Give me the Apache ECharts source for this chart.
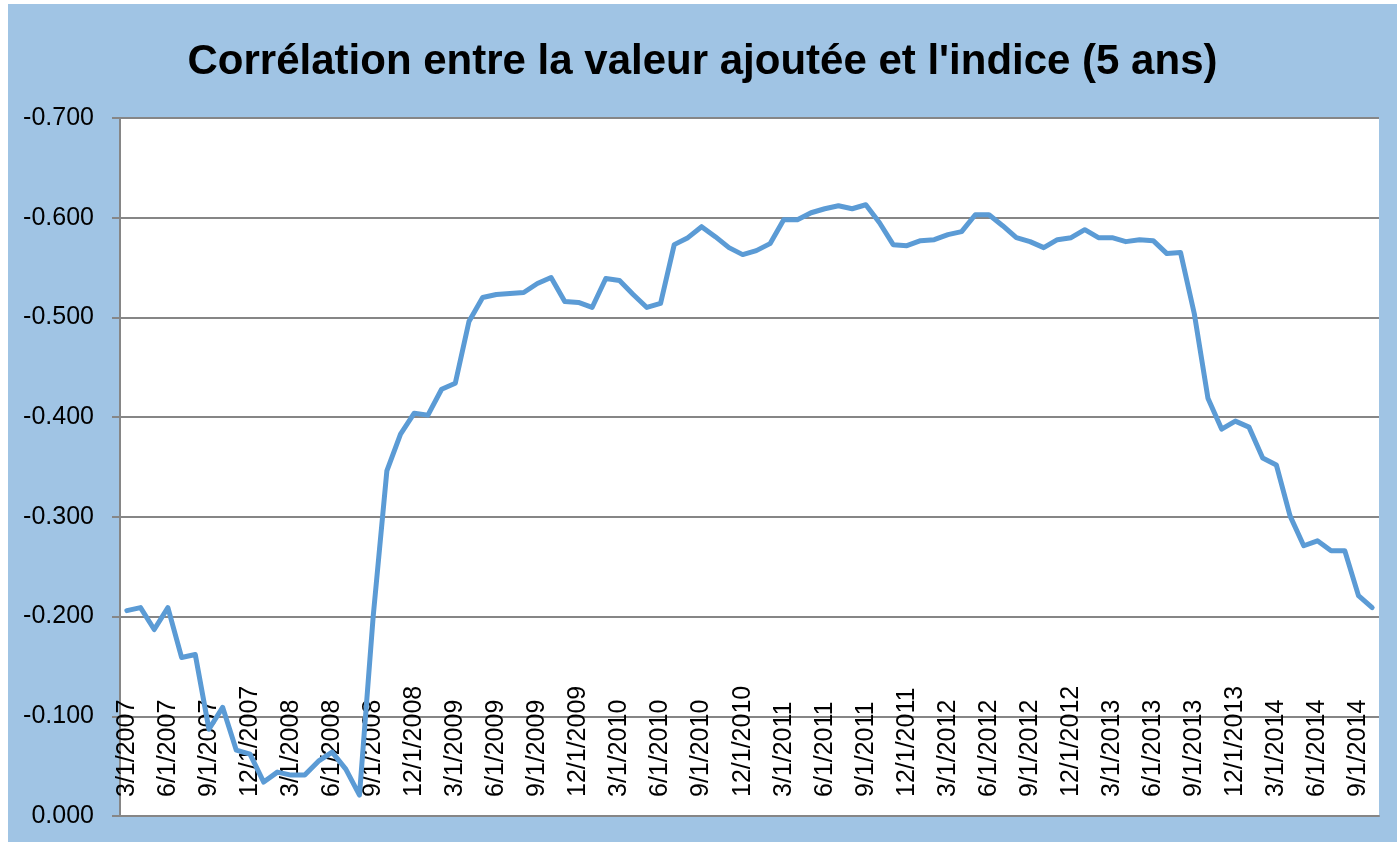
<!DOCTYPE html>
<html>
<head>
<meta charset="utf-8">
<script src="https://cdn.jsdelivr.net/npm/echarts@6/dist/echarts.min.js"></script>
<style>
    html, body { margin: 0; padding: 0; background: #ffffff; }
    #chart { position: absolute; left: 8px; top: 4px; width: 1389px; height: 838px; }
</style>
</head>
<body>
<div id="chart"></div>
<script>
// months 3/1/2007 .. 10/1/2014
var months = [];
for (var k = 0; k < 92; k++) {
    var m = (2 + k) % 12 + 1;
    var y = 2007 + Math.floor((2 + k) / 12);
    months.push(m + '/1/' + y);
}

var correlation = [
    -0.206, -0.209, -0.187, -0.209, -0.159, -0.162, -0.087, -0.109, -0.066, -0.062,
    -0.034, -0.044, -0.041, -0.041, -0.055, -0.064, -0.047, -0.021, -0.200, -0.346,
    -0.383, -0.404, -0.402, -0.428, -0.434, -0.496, -0.520, -0.523, -0.524, -0.525,
    -0.534, -0.540, -0.516, -0.515, -0.510, -0.539, -0.537, -0.523, -0.510, -0.514,
    -0.573, -0.580, -0.591, -0.581, -0.570, -0.563, -0.567, -0.574, -0.598, -0.598,
    -0.605, -0.609, -0.612, -0.609, -0.613, -0.595, -0.573, -0.572, -0.577, -0.578,
    -0.583, -0.586, -0.603, -0.603, -0.592, -0.580, -0.576, -0.570, -0.578, -0.580,
    -0.588, -0.580, -0.580, -0.576, -0.578, -0.577, -0.564, -0.565, -0.504, -0.419,
    -0.388, -0.396, -0.390, -0.359, -0.352, -0.301, -0.271, -0.276, -0.266, -0.266,
    -0.221, -0.209
];

var yMin = -0.7;
var yMax = 0;
var yStep = 0.1;

function correlChart(divId) {
    var myChart = echarts.init(document.getElementById(divId));
    var option = {
        backgroundColor: '#a0c4e4',
        color: ['#5b9bd5'],
        title: {
            show: true,
            text: "Corrélation entre la valeur ajoutée et l'indice (5 ans)",
            left: 'center',
            top: 32,
            textStyle: {
                color: '#000000',
                fontFamily: 'Liberation Sans',
                fontWeight: 'bold',
                fontSize: 42
            }
        },
        grid: {
            left: 112,
            top: 114,
            right: 18,
            bottom: 26,
            containLabel: false,
            show: true,
            backgroundColor: '#ffffff',
            borderWidth: 0
        },
        xAxis: {
            type: 'category',
            boundaryGap: true,
            data: months,
            axisLine: {
                onZero: false,
                lineStyle: { color: '#868686', width: 2 }
            },
            axisTick: {
                inside: true,
                length: 8,
                interval: 2,
                lineStyle: { color: '#868686', width: 2 }
            },
            axisLabel: {
                inside: true,
                rotate: 90,
                interval: 2,
                margin: 19,
                color: '#000000',
                fontFamily: 'Liberation Sans',
                fontSize: 25
            },
            splitLine: { show: false }
        },
        yAxis: {
            type: 'value',
            inverse: true,
            min: yMin,
            max: yMax,
            interval: yStep,
            axisLine: {
                show: true,
                lineStyle: { color: '#868686', width: 2 }
            },
            axisTick: {
                show: true,
                length: 8,
                lineStyle: { color: '#868686', width: 2 }
            },
            axisLabel: {
                margin: 26,
                color: '#000000',
                fontFamily: 'Liberation Sans',
                fontSize: 25,
                formatter: function (v) {
                    return (Math.abs(v) < 1e-9 ? 0 : v).toFixed(3);
                }
            },
            splitLine: {
                show: true,
                lineStyle: { color: '#868686', width: 2 }
            }
        },
        series: [{
            type: 'line',
            data: correlation,
            showSymbol: false,
            symbol: 'none',
            lineStyle: { width: 5, color: '#5b9bd5', join: 'round', cap: 'round' },
            animation: false
        }],
        animation: false
    };
    myChart.clear();
    myChart.setOption(option);
    return myChart;
}

correlChart('chart');
</script>
</body>
</html>
